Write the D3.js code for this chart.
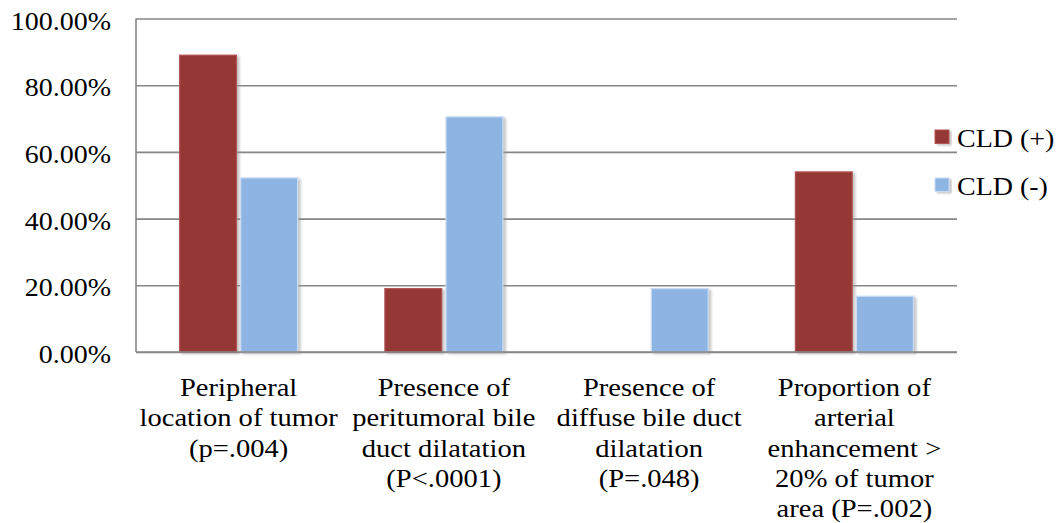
<!DOCTYPE html>
<html>
<head>
<meta charset="utf-8">
<script src="https://cdn.jsdelivr.net/npm/d3@7"></script>
<style>
  html, body { margin: 0; padding: 0; background: #fff; }
  svg { display: block; }
</style>
</head>
<body>
<svg id="chart" width="1062" height="523" font-family="Liberation Serif, serif"></svg>
<script>
const categories = [
  ["Peripheral", "location of tumor", "(p=.004)"],
  ["Presence of", "peritumoral bile", "duct dilatation", "(P<.0001)"],
  ["Presence of", "diffuse bile duct", "dilatation", "(P=.048)"],
  ["Proportion of", "arterial", "enhancement >", "20% of tumor", "area (P=.002)"]
];
const seriesNames = ["CLD (+)", "CLD (-)"];
const cldPos = [0.89, 0.19, 0, 0.54];
const cldNeg = [0.522, 0.705, 0.19, 0.167];
const yTicks = [0, 0.2, 0.4, 0.6, 0.8, 1.0];
const colors = ["#953735", "#8EB4E3"];
const strokes = ["#b35452", "#c9dcf3"];
const FONT = "Liberation Serif, serif";
const SX = 1.12;

const svg = d3.select("#chart");
const mLeft = 136, mRight = 957, mTop = 18.5, mBottom = 352;

const defs = svg.append("defs");
const f = defs.append("filter").attr("id", "sh").attr("x", "-20%").attr("y", "-20%").attr("width", "140%").attr("height", "140%");
f.append("feDropShadow").attr("dx", 2.5).attr("dy", 1.5).attr("stdDeviation", 1.2).attr("flood-color", "#999").attr("flood-opacity", 0.55);

const catKeys = categories.map((c, i) => "c" + i);
const x0 = d3.scaleBand().domain(catKeys).range([mLeft, mRight]).paddingInner(0.425).paddingOuter(0.2125);
const x1 = d3.scaleBand().domain(seriesNames).range([0, x0.bandwidth()]).paddingInner(0.07);
const y = d3.scaleLinear().domain([0, 1]).range([mBottom, mTop]);

// gridlines + y labels
const yAxis = d3.axisLeft(y).tickValues(yTicks).tickSize(-(mRight - mLeft)).tickPadding(25)
  .tickFormat(d => (d * 100).toFixed(2) + "%");
const gy = svg.append("g").attr("transform", `translate(${mLeft},0)`).call(yAxis)
  .attr("font-family", FONT).attr("font-size", 25);
gy.select(".domain").remove();
gy.selectAll(".tick line").attr("stroke", "#868686").attr("stroke-width", 1.6);
gy.selectAll(".tick text").attr("fill", "#000").attr("x", 0).attr("dy", null)
  .attr("transform", `translate(-25,10.5) scale(${SX},1)`);

// left axis line
svg.append("line").attr("x1", mLeft).attr("x2", mLeft).attr("y1", mTop).attr("y2", mBottom)
  .attr("stroke", "#868686").attr("stroke-width", 1.6);

// bars
const data = categories.map((c, i) => ({ key: catKeys[i], vals: [cldPos[i], cldNeg[i]] }));
const groups = svg.append("g").selectAll("g").data(data).join("g")
  .attr("transform", d => `translate(${x0(d.key)},0)`);
groups.selectAll("rect").data(d => d.vals.map((v, j) => ({ v, j })).filter(e => e.v > 0)).join("rect")
  .attr("x", e => x1(seriesNames[e.j]))
  .attr("y", e => y(e.v))
  .attr("width", x1.bandwidth())
  .attr("height", e => y(0) - y(e.v))
  .attr("fill", e => colors[e.j])
  .attr("stroke", e => strokes[e.j])
  .attr("stroke-width", 1.2)
  .attr("filter", "url(#sh)");

// baseline on top
svg.append("line").attr("x1", mLeft).attr("x2", mRight).attr("y1", mBottom).attr("y2", mBottom)
  .attr("stroke", "#868686").attr("stroke-width", 1.6);

// category labels
const xAxis = d3.axisBottom(x0).tickSize(0).tickFormat("");
const gx = svg.append("g").attr("transform", `translate(0,${mBottom})`).call(xAxis)
  .attr("font-family", FONT).attr("font-size", 25.5);
gx.select(".domain").remove();
gx.selectAll(".tick").each(function(d, i) {
  const t = d3.select(this).append("text").attr("text-anchor", "middle")
    .attr("fill", "#000").attr("transform", `scale(${SX},1)`);
  categories[i].forEach((line, k) => {
    t.append("tspan").attr("x", 0).attr("y", 44 + k * 30.3).text(line);
  });
});

// legend
const legend = svg.append("g").attr("font-family", FONT).attr("font-size", 25);
seriesNames.forEach((name, i) => {
  const ly = 130 + i * 48;
  legend.append("rect").attr("x", 935).attr("y", ly).attr("width", 14).attr("height", 13.5)
    .attr("fill", colors[i]).attr("stroke", strokes[i]).attr("stroke-width", 1).attr("filter", "url(#sh)");
  legend.append("text").attr("transform", `translate(957,${ly + 17}) scale(${SX},1)`)
    .attr("fill", "#000").text(name);
});
</script>
</body>
</html>
